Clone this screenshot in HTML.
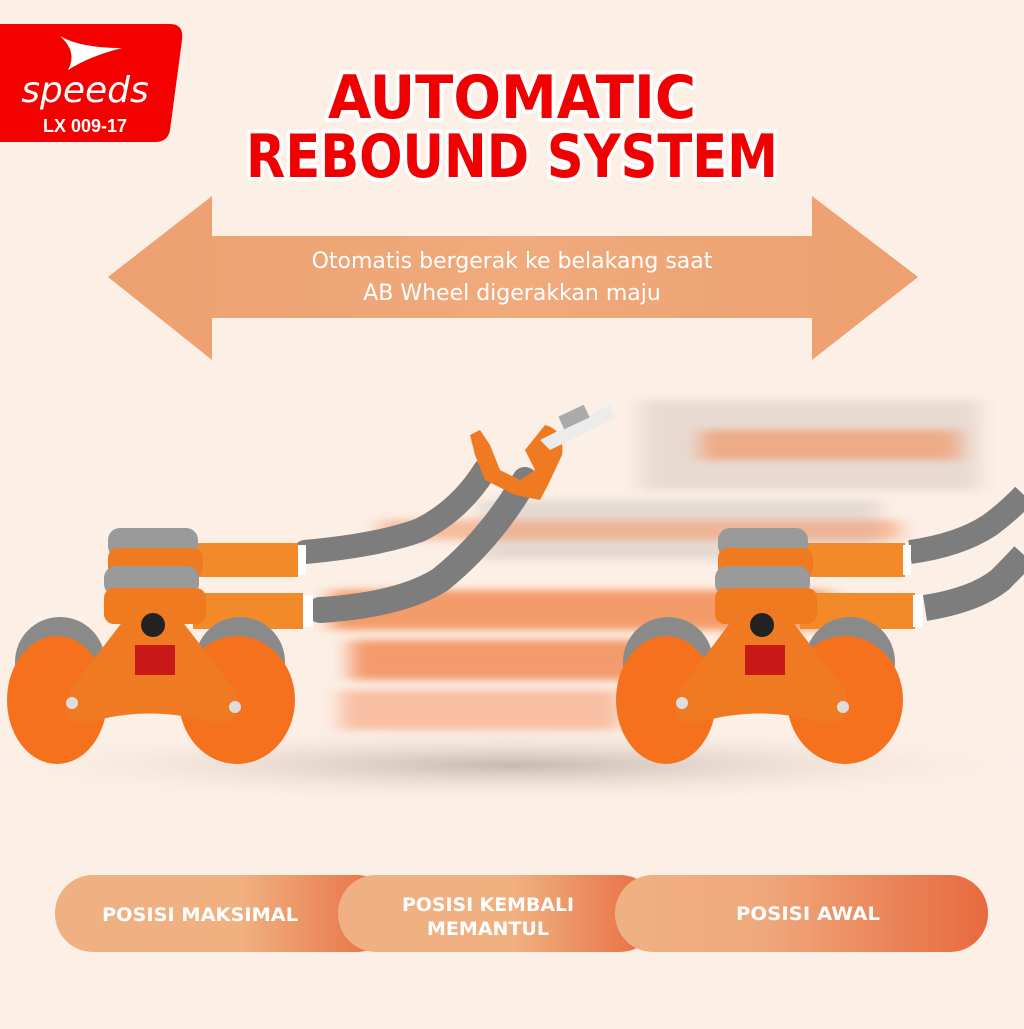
<!DOCTYPE html>
<html><head><meta charset="utf-8"><style>
body{margin:0;width:1024px;height:1024px;background:#fcefe6;overflow:hidden;font-family:"Liberation Sans",sans-serif}
</style></head><body>
<svg width="1024" height="1024" viewBox="0 0 1024 1024" xmlns="http://www.w3.org/2000/svg">
<defs>
<linearGradient id="ar" x1="0" x2="1"><stop offset="0" stop-color="#eda070"/><stop offset="0.5" stop-color="#f0aa7c"/><stop offset="1" stop-color="#eda070"/></linearGradient>
<linearGradient id="p1" x1="0" x2="1"><stop offset="0" stop-color="#efb183"/><stop offset="0.55" stop-color="#f0b080"/><stop offset="1" stop-color="#e76a3e"/></linearGradient>
<linearGradient id="p3" x1="0" x2="1"><stop offset="0" stop-color="#efb183"/><stop offset="0.4" stop-color="#efa87c"/><stop offset="1" stop-color="#e76a3e"/></linearGradient>
<radialGradient id="sh" cx="0.5" cy="0.5" r="0.5"><stop offset="0" stop-color="#c8b8ae"/><stop offset="1" stop-color="#fcefe6" stop-opacity="0"/></radialGradient>
<filter id="bl"><feGaussianBlur stdDeviation="10 4"/></filter>
</defs>
<!-- logo -->
<path d="M0 24 H170 Q184 24 182 40 L170 130 Q168 142 155 142 H0 Z" fill="#f40000"/>
<path d="M60 36 Q80 48 122 48 Q90 56 68 70 Q78 52 60 36Z" fill="#fff"/>
<text x="85" y="102" text-anchor="middle" font-size="36" font-style="italic" fill="#fff" font-family="DejaVu Sans, sans-serif">speeds</text>
<text x="85" y="132" text-anchor="middle" font-size="18" font-weight="bold" fill="#fff">LX 009-17</text>
<!-- title -->
<g font-family="DejaVu Sans, sans-serif" font-weight="bold" font-size="60" text-anchor="middle" fill="#f00000" stroke="#fff" stroke-width="8" paint-order="stroke" stroke-linejoin="round">
<text x="512" y="118" textLength="368" lengthAdjust="spacingAndGlyphs">AUTOMATIC</text>
<text x="512" y="177" textLength="532" lengthAdjust="spacingAndGlyphs">REBOUND SYSTEM</text>
</g>
<!-- arrow -->
<path d="M108 277 L212 196 V236 H812 V196 L918 277 L812 360 V318 H212 V360 Z" fill="url(#ar)"/>
<text x="512" y="268" text-anchor="middle" font-size="22" fill="#fff" font-family="DejaVu Sans, sans-serif">Otomatis bergerak ke belakang saat</text>
<text x="512" y="300" text-anchor="middle" font-size="22" fill="#fff" font-family="DejaVu Sans, sans-serif">AB Wheel digerakkan maju</text>
<!-- shadow -->
<ellipse cx="512" cy="765" rx="560" ry="40" fill="url(#sh)"/>
<!-- motion blur -->
<g filter="url(#bl)">
<rect x="640" y="400" width="340" height="90" fill="#b8a8a0" opacity="0.3"/>
<rect x="700" y="430" width="260" height="30" fill="#f08a55" opacity="0.6"/>
<rect x="480" y="500" width="400" height="60" fill="#b0a8a4" opacity="0.3"/>
<rect x="380" y="520" width="520" height="20" fill="#f39a6a" opacity="0.6"/>
<rect x="330" y="590" width="500" height="40" fill="#f08040" opacity="0.75"/>
<rect x="350" y="640" width="300" height="40" fill="#f07838" opacity="0.7"/>
<rect x="340" y="690" width="280" height="40" fill="#f49060" opacity="0.5"/>
</g>
<!-- left roller handles -->
<path d="M305 552 Q380 545 420 530 Q460 510 485 470" stroke="#7d7d7d" stroke-width="24" fill="none" stroke-linecap="round"/>
<path d="M320 610 Q400 605 440 580 Q490 540 525 480" stroke="#7d7d7d" stroke-width="26" fill="none" stroke-linecap="round"/>
<path d="M470 435 L480 430 L490 445 L500 470 L520 480 L535 470 L525 450 L545 425 Q565 430 562 455 L548 485 L540 500 L515 495 L485 480 L475 455 Z" fill="#f07a22"/>
<path d="M540 440 L610 405 L615 418 L550 450Z" fill="#ececec"/>
<rect x="560" y="410" width="28" height="14" fill="#aaa" transform="rotate(-25 574 417)"/>
<!-- left roller -->
<g>
<rect x="193" y="543" width="105" height="34" fill="#f28a2a"/>
<rect x="193" y="593" width="110" height="36" fill="#f28a2a"/>
<rect x="298" y="545" width="8" height="30" fill="#fff"/>
<rect x="303" y="595" width="10" height="32" fill="#fff"/>
<rect x="108" y="528" width="90" height="30" rx="12" fill="#9a9a9a"/>
<rect x="108" y="548" width="95" height="30" rx="10" fill="#ef7a20"/>
<rect x="104" y="566" width="95" height="30" rx="12" fill="#9a9a9a"/>
<rect x="104" y="588" width="102" height="36" rx="10" fill="#ef7a20"/>
<ellipse cx="60" cy="662" rx="45" ry="45" fill="#8a8a8a"/>
<ellipse cx="240" cy="662" rx="45" ry="45" fill="#8a8a8a"/>
<ellipse cx="57" cy="700" rx="50" ry="64" fill="#f5711e"/>
<ellipse cx="237" cy="700" rx="58" ry="64" fill="#f5711e"/>
<path d="M130 612 L175 612 L235 690 Q245 730 210 722 Q150 705 90 722 Q55 730 70 690 Z" fill="#f07a22"/>
<rect x="135" y="645" width="40" height="30" fill="#c81818"/>
<circle cx="153" cy="625" r="12" fill="#222"/>
<circle cx="72" cy="703" r="6" fill="#ddd"/><circle cx="235" cy="707" r="6" fill="#ddd"/>
</g>
<!-- right roller -->
<g>
<path d="M910 552 Q960 545 990 525 Q1010 510 1024 495" stroke="#7d7d7d" stroke-width="24" fill="none"/>
<path d="M925 608 Q975 600 1000 580 Q1015 565 1024 555" stroke="#7d7d7d" stroke-width="26" fill="none"/>
<rect x="800" y="543" width="105" height="34" fill="#f28a2a"/>
<rect x="800" y="593" width="115" height="36" fill="#f28a2a"/>
<rect x="903" y="545" width="8" height="30" fill="#fff"/>
<rect x="913" y="595" width="10" height="32" fill="#fff"/>
<rect x="718" y="528" width="90" height="30" rx="12" fill="#9a9a9a"/>
<rect x="718" y="548" width="95" height="30" rx="10" fill="#ef7a20"/>
<rect x="715" y="566" width="95" height="30" rx="12" fill="#9a9a9a"/>
<rect x="715" y="588" width="102" height="36" rx="10" fill="#ef7a20"/>
<ellipse cx="668" cy="662" rx="45" ry="45" fill="#8a8a8a"/>
<ellipse cx="850" cy="662" rx="45" ry="45" fill="#8a8a8a"/>
<ellipse cx="666" cy="700" rx="50" ry="64" fill="#f5711e"/>
<ellipse cx="845" cy="700" rx="58" ry="64" fill="#f5711e"/>
<path d="M738 612 L785 612 L845 690 Q855 730 820 722 Q760 705 700 722 Q665 730 680 690 Z" fill="#f07a22"/>
<rect x="745" y="645" width="40" height="30" fill="#c81818"/>
<circle cx="762" cy="625" r="12" fill="#222"/>
<circle cx="682" cy="703" r="6" fill="#ddd"/><circle cx="843" cy="707" r="6" fill="#ddd"/>
</g>
<!-- pills -->
<rect x="55" y="875" width="340" height="77" rx="38" fill="url(#p1)"/>
<rect x="338" y="875" width="320" height="77" rx="38" fill="url(#p1)"/>
<rect x="615" y="875" width="373" height="77" rx="38" fill="url(#p3)"/>
<g fill="#fff" font-weight="bold" font-size="19" text-anchor="middle" font-family="DejaVu Sans, sans-serif">
<text x="200" y="921" textLength="196" lengthAdjust="spacingAndGlyphs">POSISI MAKSIMAL</text>
<text x="488" y="911" textLength="172" lengthAdjust="spacingAndGlyphs">POSISI KEMBALI</text>
<text x="488" y="935" textLength="122" lengthAdjust="spacingAndGlyphs">MEMANTUL</text>
<text x="808" y="920" textLength="144" lengthAdjust="spacingAndGlyphs">POSISI AWAL</text>
</g>
</svg>
</body></html>
